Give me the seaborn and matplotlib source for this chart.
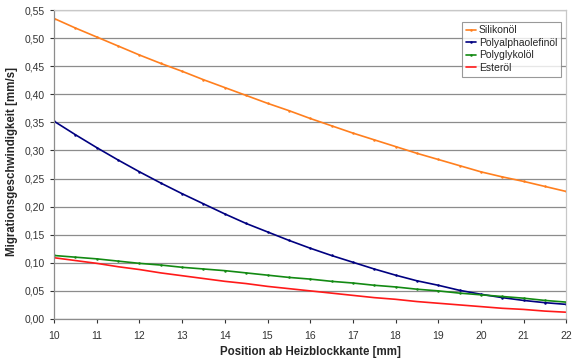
#!/usr/bin/python3

from matplotlib import pyplot as plt
import pandas as pd
import seaborn as sns

# position [mm]
position = [10, 10.5, 11, 11.5, 12, 12.5, 13, 13.5, 14, 14.5, 15, 15.5, 16,
            16.5, 17, 17.5, 18, 18.5, 19, 19.5, 20, 20.5, 21, 21.5, 22]

silikon = [0.535, 0.518, 0.502, 0.486, 0.470, 0.455, 0.441, 0.426, 0.412, 0.398,
           0.384, 0.371, 0.357, 0.344, 0.331, 0.319, 0.307, 0.295, 0.284, 0.273,
           0.262, 0.253, 0.245, 0.236, 0.227]
polyalpha = [0.352, 0.328, 0.305, 0.283, 0.262, 0.242, 0.223, 0.205, 0.187, 0.170,
             0.155, 0.140, 0.126, 0.113, 0.101, 0.089, 0.078, 0.068, 0.060, 0.051,
             0.044, 0.038, 0.033, 0.029, 0.026]
polyglykol = [0.113, 0.110, 0.107, 0.103, 0.099, 0.096, 0.092, 0.089, 0.086, 0.082,
              0.078, 0.074, 0.071, 0.067, 0.064, 0.060, 0.057, 0.053, 0.050, 0.046,
              0.043, 0.040, 0.037, 0.033, 0.030]
ester = [0.109, 0.104, 0.099, 0.093, 0.088, 0.082, 0.077, 0.072, 0.067, 0.063,
         0.058, 0.054, 0.050, 0.046, 0.042, 0.038, 0.035, 0.031, 0.028, 0.025,
         0.022, 0.019, 0.017, 0.014, 0.012]

series = {
    'Silikonöl': silikon,
    'Polyalphaolefinöl': polyalpha,
    'Polyglykolöl': polyglykol,
    'Esteröl': ester,
}
colors = ['#FF7F1E', '#000080', '#138A13', '#FF1A1A']

rows = []
for name, vals in series.items():
    for x, y in zip(position, vals):
        rows.append({'pos': x, 'v': y, 'oel': name})
df = pd.DataFrame(rows)

sns.set_theme(style='white')
plt.rcParams['font.family'] = ['Liberation Sans', 'DejaVu Sans']

fig = plt.figure(figsize=(5.76, 3.6), dpi=100)
ax = fig.add_axes([0.094, 0.114, 0.889, 0.858])

sns.lineplot(data=df, x='pos', y='v', hue='oel', palette=colors, ax=ax,
             marker='o', markersize=1.8, markeredgewidth=0, linewidth=1.2)
# Esteröl has no visible markers
ax.lines[3].set_marker('')

ax.set_xlim(10, 22)
ax.set_ylim(0, 0.55)
ax.set_xticks(range(10, 23))
ax.set_yticks([i * 0.05 for i in range(12)])
ax.set_yticklabels([f'{i * 0.05:.2f}'.replace('.', ',') for i in range(12)])
ax.tick_params(axis='both', labelsize=7.5, colors='#333333', length=3, width=0.8,
               direction='out', bottom=True, left=True)
ax.tick_params(axis='x', pad=6)
ax.tick_params(axis='y', pad=4)
ax.yaxis.grid(True, color='#8c8c8c', linewidth=0.9)
for side in ['top', 'right']:
    ax.spines[side].set_color('#c8c8c8')
    ax.spines[side].set_linewidth(0.9)
for side in ['left', 'bottom']:
    ax.spines[side].set_color('#8c8c8c')
    ax.spines[side].set_linewidth(0.9)

ax.set_xlabel('Position ab Heizblockkante [mm]', fontsize=8.3, fontweight='bold', labelpad=3)
ax.set_ylabel('Migrationsgeschwindigkeit [mm/s]', fontsize=8.3, fontweight='bold')
ax.yaxis.set_label_coords(-0.07, 0.51)

leg = ax.legend(loc='upper right', bbox_to_anchor=(0.99, 0.963), fontsize=7.5,
                frameon=True, fancybox=False, handlelength=1.0, handletextpad=0.3,
                borderpad=0.35, labelspacing=0.25, borderaxespad=0)
leg.get_frame().set_edgecolor('#808080')
leg.get_frame().set_linewidth(0.8)
leg.get_lines()[3].set_marker('')

plt.savefig('out.png', dpi=100)
